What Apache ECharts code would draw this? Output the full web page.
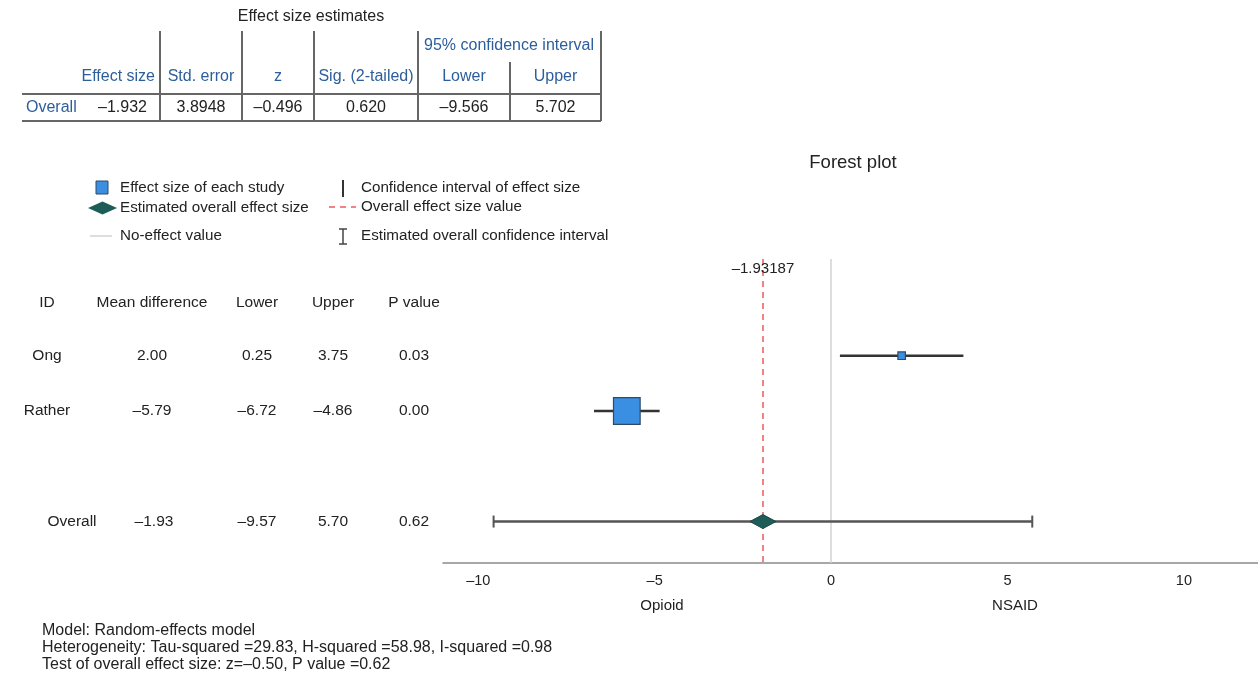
<!DOCTYPE html>
<html>
<head>
<meta charset="utf-8">
<script src="https://cdn.jsdelivr.net/npm/echarts@6/dist/echarts.min.js"></script>
<style>
  html, body { margin: 0; padding: 0; background: #fff; }
  #chart { width: 1258px; height: 678px; }
</style>
</head>
<body>
<div id="chart"></div>
<script>
// ---- data ----
const studyIds = ['Ong', 'Rather'];
const studyMean = [2.00, -5.79];
const studyLower = [0.25, -6.72];
const studyUpper = [3.75, -4.86];
const studyP = [0.03, 0.00];
const studyRows = [1, 2];

const overallId = 'Overall';
const overallMean = -1.93187;
const overallLower = -9.566;
const overallUpper = 5.702;
const overallSE = 3.8948;
const overallZ = -0.496;
const overallSig = 0.620;
const overallP = 0.62;
const overallRow = 4;
const headerRow = 0.05;
const estimateLabelRow = -0.57;

const xTicks = [-10, -5, 0, 5, 10];
const listHeaders = ['ID', 'Mean difference', 'Lower', 'Upper', 'P value'];
const estimateHeaders = ['Effect size', 'Std. error', 'z', 'Sig. (2-tailed)', 'Lower', 'Upper'];
const sideLabels = ['Opioid', 'NSAID'];
const footerLines = [
  'Model: Random-effects model',
  'Heterogeneity: Tau-squared =29.83, H-squared =58.98, I-squared =0.98',
  'Test of overall effect size: z=\u20130.50, P value =0.62'
];

// ---- helpers ----
const FONT = "'Liberation Sans', Arial, Helvetica, sans-serif";
const INK = '#222';
const BLUE = '#2c5e9c';
const fmt = (v, d) => (v < 0 ? '\u2013' : '') + Math.abs(v).toFixed(d);
// inverse-variance weight from the 95% interval
const weightOf = (lo, hi) => { const se = (hi - lo) / (2 * 1.959964); return 1 / (se * se); };
const BOX_SCALE = 6;

const chart = echarts.init(document.getElementById('chart'), null, { renderer: 'canvas' });

const studyData = studyMean.map((m, i) => [m, studyLower[i], studyUpper[i], studyRows[i], weightOf(studyLower[i], studyUpper[i])]);

chart.setOption({
  animation: false,
  backgroundColor: '#fff',
  grid: { left: 443, right: 0, top: 259, bottom: 115, containLabel: false },
  xAxis: {
    type: 'value', min: -11, max: 12.1,
    splitLine: { show: false },
    axisTick: { show: false },
    axisLine: { show: true, onZero: false, lineStyle: { color: '#8a8a8a', width: 1.5 } },
    axisLabel: {
      customValues: xTicks, margin: 10,
      fontFamily: FONT, fontSize: 14.5, color: INK,
      formatter: v => fmt(v, 0)
    }
  },
  yAxis: { type: 'value', inverse: true, min: -0.75, max: 4.75, show: false },
  series: [
    {
      // reference lines: no effect (0) and overall estimate
      type: 'scatter', data: [], silent: true,
      markLine: {
        silent: true, symbol: 'none', label: { show: false },
        data: [
          { xAxis: 0, lineStyle: { color: '#d2d2d2', width: 1.5, type: 'solid' } },
          { xAxis: overallMean, lineStyle: { color: '#ef5b5b', width: 1.5, type: [6, 5] } }
        ]
      }
    },
    {
      // individual studies: interval line and weighted box
      type: 'custom', silent: true, data: studyData, z: 5,
      renderItem(params, api) {
        const y = api.value(3);
        const a = api.coord([api.value(1), y]);
        const b = api.coord([api.value(2), y]);
        const c = api.coord([api.value(0), y]);
        const s = api.value(4) * BOX_SCALE;
        return {
          type: 'group', children: [
            { type: 'line', shape: { x1: a[0], y1: a[1], x2: b[0], y2: b[1] }, style: { stroke: '#333', lineWidth: 2.5 } },
            { type: 'rect', shape: { x: c[0] - s / 2, y: c[1] - s / 2, width: s, height: s }, style: { fill: '#3b8fe2', stroke: '#2f4a66', lineWidth: 1.2 } }
          ]
        };
      }
    },
    {
      // overall estimate: interval with caps and diamond
      type: 'custom', silent: true, z: 5,
      data: [[overallMean, overallLower, overallUpper, overallRow]],
      renderItem(params, api) {
        const y = api.value(3);
        const a = api.coord([api.value(1), y]);
        const b = api.coord([api.value(2), y]);
        const c = api.coord([api.value(0), y]);
        const cap = 6, hw = 13, hh = 7;
        return {
          type: 'group', children: [
            { type: 'line', shape: { x1: a[0], y1: a[1], x2: b[0], y2: b[1] }, style: { stroke: '#555', lineWidth: 2.5 } },
            { type: 'line', shape: { x1: a[0], y1: a[1] - cap, x2: a[0], y2: a[1] + cap }, style: { stroke: '#555', lineWidth: 2 } },
            { type: 'line', shape: { x1: b[0], y1: b[1] - cap, x2: b[0], y2: b[1] + cap }, style: { stroke: '#555', lineWidth: 2 } },
            { type: 'polygon', shape: { points: [[c[0] - hw, c[1]], [c[0], c[1] - hh], [c[0] + hw, c[1]], [c[0], c[1] + hh]] }, style: { fill: '#1e5c58', stroke: '#174844', lineWidth: 1 } }
          ]
        };
      }
    }
  ]
});

// ---- text blocks and keys ----
const g = [];
const txt = (x, y, s, opt = {}) => g.push({
  type: 'text', x, y, silent: true, z: 10,
  style: Object.assign({ text: s, fontFamily: FONT, fontSize: 16, fill: INK, align: 'center', verticalAlign: 'middle' }, opt)
});
const seg = (x1, y1, x2, y2, stroke, w, dash) => g.push({
  type: 'line', silent: true, shape: { x1, y1, x2, y2 },
  style: { stroke, lineWidth: w, lineDash: dash || null }
});

// plot title
txt(853, 163, 'Forest plot', { fontSize: 18.5 });

// effect size estimates table
txt(311, 17, 'Effect size estimates');
const colEdges = [22, 160, 242, 314, 418, 510, 601];
const lineCol = '#666';
[160, 242, 314, 418, 601].forEach(x => seg(x, 31, x, 121, lineCol, 2));
seg(510, 62, 510, 121, lineCol, 2);
seg(22, 94, 601, 94, lineCol, 2);
seg(22, 121, 601, 121, lineCol, 2);
txt(509, 46, '95% confidence interval', { fill: BLUE });
txt(155, 77, estimateHeaders[0], { fill: BLUE, align: 'right' });
for (let i = 1; i < estimateHeaders.length; i++) {
  txt((colEdges[i] + colEdges[i + 1]) / 2, 77, estimateHeaders[i], { fill: BLUE });
}
txt(26, 108, overallId, { fill: BLUE, align: 'left' });
const estimateRow = [fmt(overallMean, 3), overallSE.toFixed(4), fmt(overallZ, 3), overallSig.toFixed(3), fmt(overallLower, 3), fmt(overallUpper, 3)];
txt(147, 108, estimateRow[0], { align: 'right' });
for (let i = 1; i < estimateRow.length; i++) {
  txt((colEdges[i] + colEdges[i + 1]) / 2, 108, estimateRow[i]);
}

// legend keys
g.push({ type: 'rect', silent: true, shape: { x: 96, y: 181, width: 12, height: 13 }, style: { fill: '#3b8fe2', stroke: '#2f4a66', lineWidth: 1 } });
txt(120, 188, 'Effect size of each study', { align: 'left', fontSize: 15.2 });
g.push({ type: 'polygon', silent: true, shape: { points: [[88, 208], [102.5, 201.5], [117, 208], [102.5, 214.5]] }, style: { fill: '#1e5c58' } });
txt(120, 208, 'Estimated overall effect size', { align: 'left', fontSize: 15.2 });
seg(90, 236, 112, 236, '#d2d2d2', 1.5);
txt(120, 236, 'No-effect value', { align: 'left', fontSize: 15.2 });
seg(343, 180, 343, 197, '#333', 2);
txt(361, 188, 'Confidence interval of effect size', { align: 'left', fontSize: 15.2 });
seg(329, 207, 356, 207, '#ef5b5b', 1.5, [6, 5]);
txt(361, 207, 'Overall effect size value', { align: 'left', fontSize: 15.2 });
seg(343, 229, 343, 244, '#444', 1.5);
seg(339, 229, 347, 229, '#444', 1.5);
seg(339, 244, 347, 244, '#444', 1.5);
txt(361, 236, 'Estimated overall confidence interval', { align: 'left', fontSize: 15.2 });

// estimate label beside the dashed line
const px = chart.convertToPixel({ gridIndex: 0 }, [overallMean, estimateLabelRow]);
txt(px[0], px[1], fmt(overallMean, 5), { fontSize: 15 });

// study listing aligned with the plot rows
const rowY = r => chart.convertToPixel({ yAxisIndex: 0 }, r);
const listX = [47, 152, 257, 333, 414];
listHeaders.forEach((h, i) => txt(listX[i], rowY(headerRow), h, { fontSize: 15.5 }));
studyIds.forEach((id, k) => {
  const y = rowY(studyRows[k]);
  [id, fmt(studyMean[k], 2), fmt(studyLower[k], 2), fmt(studyUpper[k], 2), studyP[k].toFixed(2)]
    .forEach((s, i) => txt(listX[i], y, s, { fontSize: 15.5 }));
});
{
  const y = rowY(overallRow);
  const cells = [overallId, fmt(overallMean, 2), fmt(overallLower, 2), fmt(overallUpper, 2), overallP.toFixed(2)];
  const ox = [72, 154, 257, 333, 414];
  cells.forEach((s, i) => txt(ox[i], y, s, { fontSize: 15.5 }));
}

// direction labels under the axis
txt(662, 606, sideLabels[0], { fontSize: 15 });
txt(1015, 606, sideLabels[1], { fontSize: 15 });

// footer notes
footerLines.forEach((s, i) => txt(42, 631 + i * 17, s, { align: 'left' }));

chart.setOption({ graphic: { elements: g } });
</script>
</body>
</html>
